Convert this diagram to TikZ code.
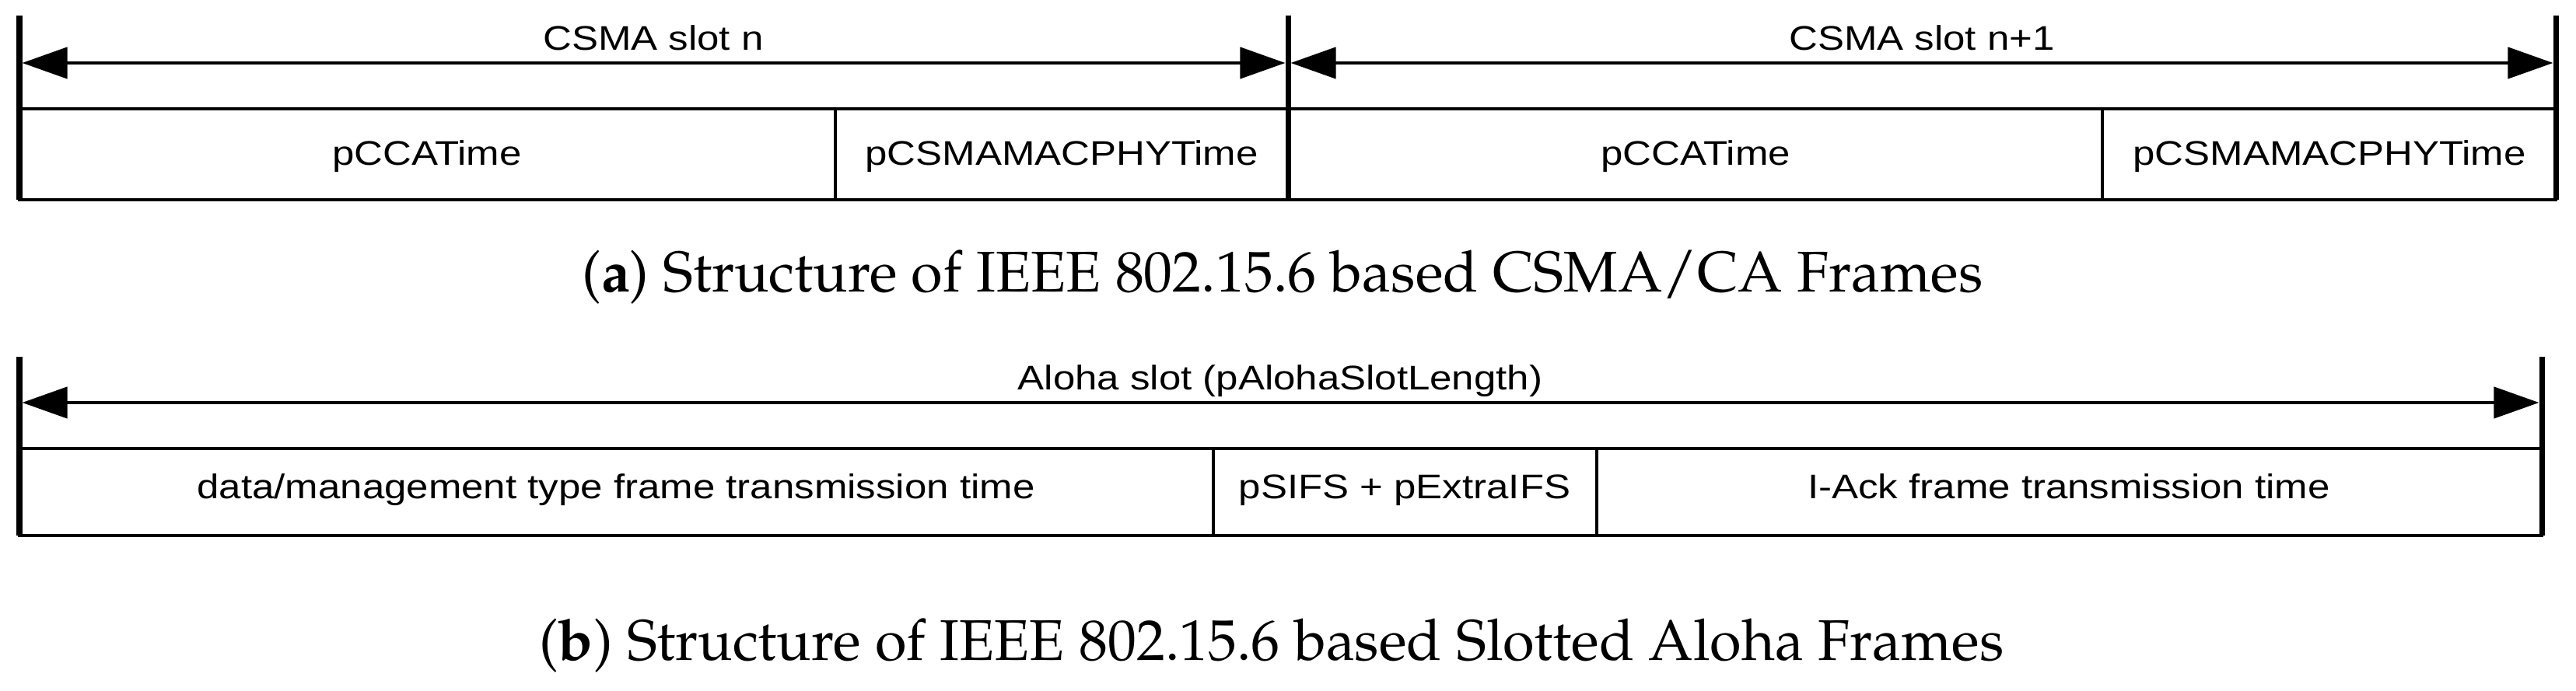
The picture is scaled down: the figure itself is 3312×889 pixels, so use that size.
\documentclass[tikz,border=0pt]{standalone}
\usepackage[T1]{fontenc}
\usepackage{fontspec}
\setsansfont{Liberation Sans}
\usetikzlibrary{arrows.meta,positioning}
\newcommand\palfont{\fontencoding{T1}\fontfamily{ppl}\selectfont}

\begin{document}
\begin{tikzpicture}[
    x=0.01cm, y=-0.01cm,
    bound/.style={line width=2pt},
    cell/.style={line width=1.2pt},
    span/.style={line width=1.2pt,
      {Triangle[length=5.8mm,width=4mm]}-{Triangle[length=5.8mm,width=4mm]}},
    lbl/.style={font=\sffamily\fontsize{12.5}{14}\selectfont, xscale=1.16,
      transform shape, inner sep=0pt, anchor=base},
    subcap/.style={font=\palfont\fontsize{21}{24}\selectfont, inner sep=0pt, anchor=base}
]
\useasboundingbox (0,0) rectangle (3312,889);

% CSMA/CA slots
\coordinate (a0) at (25,20);
\coordinate (a1) at (1656,20);
\coordinate (a2) at (3286,20);
\coordinate (aArr) at (0,81);
\coordinate (aTop) at (0,140);
\coordinate (aBot) at (0,257);
\coordinate (ad1) at (1074,140);
\coordinate (ad2) at (2703,140);

\draw[cell] (a0 |- aTop) rectangle (a2 |- aBot);
\draw[cell] (ad1) -- (ad1 |- aBot);
\draw[cell] (ad2) -- (ad2 |- aBot);
\draw[bound] (a0) -- (a0 |- aBot);
\draw[bound] (a1) -- (a1 |- aBot);
\draw[bound] (a2) -- (a2 |- aBot);

\draw[span] ([xshift=1pt]a0 |- aArr) -- ([xshift=-1pt]a1 |- aArr);
\draw[span] ([xshift=1pt]a1 |- aArr) -- ([xshift=-1pt]a2 |- aArr);

\node[lbl] (slotn) at (840,65) {CSMA slot n};
\node[lbl] (slotm) at (2471,65) {CSMA slot n+1};

\node[lbl] (cca1) at (549,213) {pCCATime};
\node[lbl] (phy1) at (1365,213) {pCSMAMACPHYTime};
\node[lbl] (cca2) at (2180,213) {pCCATime};
\node[lbl] (phy2) at (2995,213) {pCSMAMACPHYTime};

\node[subcap] (capa) at (1649,376) {(\textbf{a}) Structure of IEEE 802.15.6 based CSMA/CA Frames};

% Slotted Aloha slot
\coordinate (b0) at (25,459);
\coordinate (b1) at (3268,459);
\coordinate (bArr) at (0,518);
\coordinate (bTop) at (0,577);
\coordinate (bBot) at (0,689);
\coordinate (bd1) at (1560,577);
\coordinate (bd2) at (2053,577);

\draw[cell] (b0 |- bTop) rectangle (b1 |- bBot);
\draw[cell] (bd1) -- (bd1 |- bBot);
\draw[cell] (bd2) -- (bd2 |- bBot);
\draw[bound] (b0) -- (b0 |- bBot);
\draw[bound] (b1) -- (b1 |- bBot);

\draw[span] ([xshift=1pt]b0 |- bArr) -- ([xshift=-1pt]b1 |- bArr);

\node[lbl] (aloha) at (1646,502) {Aloha slot (pAlohaSlotLength)};

\node[lbl] (data) at (792,642) {data/management type frame transmission time};
\node[lbl] (sifs) at (1806,642) {pSIFS + pExtraIFS};
\node[lbl] (iack) at (2660,642) {I-Ack frame transmission time};

\node[subcap] (capb) at (1635,850) {(\textbf{b}) Structure of IEEE 802.15.6 based Slotted Aloha Frames};

\end{tikzpicture}
\end{document}
